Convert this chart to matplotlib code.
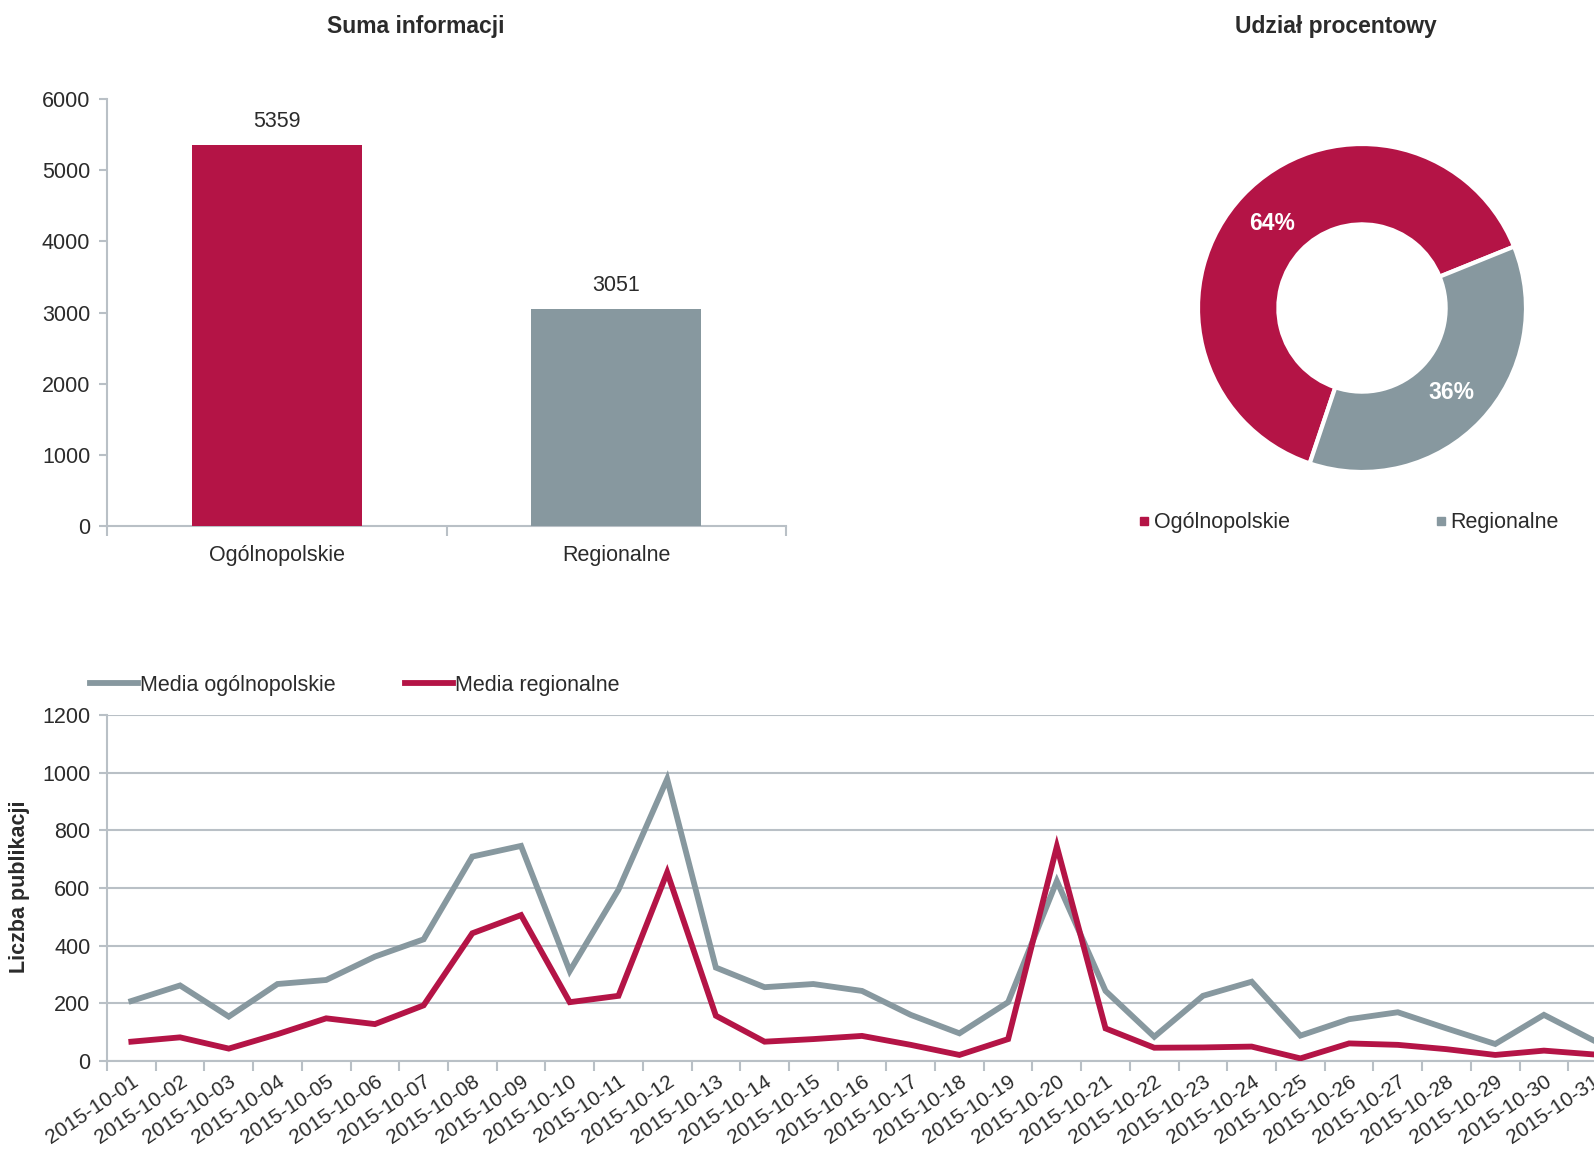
import matplotlib
matplotlib.use('Agg')
import matplotlib.pyplot as plt
from matplotlib.lines import Line2D
import numpy as np

plt.rcParams['font.family'] = ['Liberation Sans', 'DejaVu Sans']

RED = '#B41446'
GREY = '#87989F'
AXIS = '#B9C0C6'
TEXT = '#2B2B2B'

# --- data ---
categories = ['Ogólnopolskie', 'Regionalne']
totals = [5359, 3051]

dates = ['2015-10-%02d' % d for d in range(1, 32)]
media_ogolnopolskie = [208, 262, 154, 267, 281, 362, 422, 709, 746, 312, 594, 978,
                       324, 256, 267, 243, 160, 96, 204, 624, 243, 84, 226, 275,
                       88, 145, 169, 113, 59, 160, 73]
media_regionalne = [67, 82, 43, 93, 148, 128, 193, 443, 506, 204, 226, 654,
                    157, 67, 76, 87, 56, 21, 76, 744, 113, 46, 47, 50,
                    9, 61, 56, 41, 21, 36, 23]

W, H = 1594, 1150
fig = plt.figure(figsize=(W / 100, H / 100), dpi=100, facecolor='white')


def px(left, top, right, bottom):
    """pixel box -> figure fraction rect"""
    return [left / W, 1 - bottom / H, (right - left) / W, (bottom - top) / H]


def style_axis(ax, xsize=15.5):
    for s in ['top', 'right']:
        ax.spines[s].set_visible(False)
    for s in ['left', 'bottom']:
        ax.spines[s].set_color(AXIS)
        ax.spines[s].set_linewidth(1.5)
    ax.tick_params(axis='y', colors=AXIS, labelcolor=TEXT, labelsize=15.5,
                   length=6, width=1.5, pad=6)
    ax.tick_params(axis='x', which='major', length=0, labelcolor=TEXT, labelsize=xsize)
    ax.tick_params(axis='x', which='minor', colors=AXIS, length=7, width=1.5)


# --- bar chart ---
ax1 = fig.add_axes(px(107, 99, 786, 526))
x = np.arange(len(categories))
bars = ax1.bar(x, totals, width=0.5, color=[RED, GREY], zorder=3)
for b, v in zip(bars, totals):
    ax1.annotate(str(v), (b.get_x() + b.get_width() / 2, v), xytext=(0, 17),
                 textcoords='offset points', ha='center', va='center',
                 fontsize=15.5, color=TEXT)
ax1.set_xlim(-0.5, len(categories) - 0.5)
ax1.set_ylim(0, 6000)
ax1.set_yticks(range(0, 6001, 1000))
ax1.set_xticks(x)
ax1.set_xticklabels(categories)
ax1.set_xticks(np.arange(-0.5, len(categories)), minor=True)
style_axis(ax1)
ax1.tick_params(axis='x', which='major', pad=14)
fig.text(416 / W, 1 - 26 / H, 'Suma informacji', ha='center', va='center',
         fontsize=16.5, fontweight='bold', color=TEXT)

# --- donut ---
ax2 = fig.add_axes(px(1362 - 164, 308 - 164, 1362 + 164, 308 + 164))
wedges, texts, autotexts = ax2.pie(
    totals, colors=[RED, GREY], startangle=22, counterclock=True,
    autopct='%1.0f%%', pctdistance=0.75,
    wedgeprops=dict(width=0.49, edgecolor='white', linewidth=3),
)
for at in autotexts:
    at.set_color('white')
    at.set_fontweight('bold')
    at.set_fontsize(16.5)
ax2.set_xlim(-1, 1)
ax2.set_ylim(-1, 1)
ax2.set_aspect('equal')
fig.text(1336 / W, 1 - 26 / H, 'Udział procentowy', ha='center', va='center',
         fontsize=16.5, fontweight='bold', color=TEXT)
handles = [Line2D([], [], marker='s', linestyle='none', markersize=6,
                  color=c) for c in [RED, GREY]]
fig.legend(handles, categories, loc='center left',
           bbox_to_anchor=(1127 / W, 1 - 523 / H), ncol=2, frameon=False,
           fontsize=15.5, handlelength=0.6, handletextpad=0.15,
           columnspacing=6.7, borderpad=0, labelcolor=TEXT)

# --- line chart ---
ax3 = fig.add_axes(px(107, 715, 1617, 1061))
xi = np.arange(len(dates))
ax3.plot(xi, media_ogolnopolskie, color=GREY, linewidth=4.2,
         solid_joinstyle='miter', label='Media ogólnopolskie', zorder=3)
ax3.plot(xi, media_regionalne, color=RED, linewidth=4.2,
         solid_joinstyle='miter', label='Media regionalne', zorder=4)
ax3.set_xlim(-0.5, len(dates) - 0.5)
ax3.set_ylim(0, 1200)
ax3.set_yticks(range(0, 1201, 200))
ax3.set_xticks(xi)
ax3.set_xticklabels(dates, rotation=34, ha='right', rotation_mode='anchor')
ax3.set_xticks(np.arange(-0.5, len(dates)), minor=True)
ax3.grid(axis='y', color=AXIS, linewidth=1.5, zorder=0)
style_axis(ax3, xsize=15)
ax3.tick_params(axis='x', which='major', pad=8)
fig.text(20 / W, 1 - 887 / H, 'Liczba publikacji', rotation=90, ha='center',
         va='center', fontsize=15.5, fontweight='bold', color=TEXT)
fig.legend(*ax3.get_legend_handles_labels(), loc='center left',
           bbox_to_anchor=(79 / W, 1 - 685 / H), ncol=2, frameon=False,
           fontsize=15.5, handlelength=2.25, handletextpad=0.1,
           columnspacing=3.2, borderpad=0, labelcolor=TEXT)

fig.savefig('out.png', dpi=100, facecolor='white')
